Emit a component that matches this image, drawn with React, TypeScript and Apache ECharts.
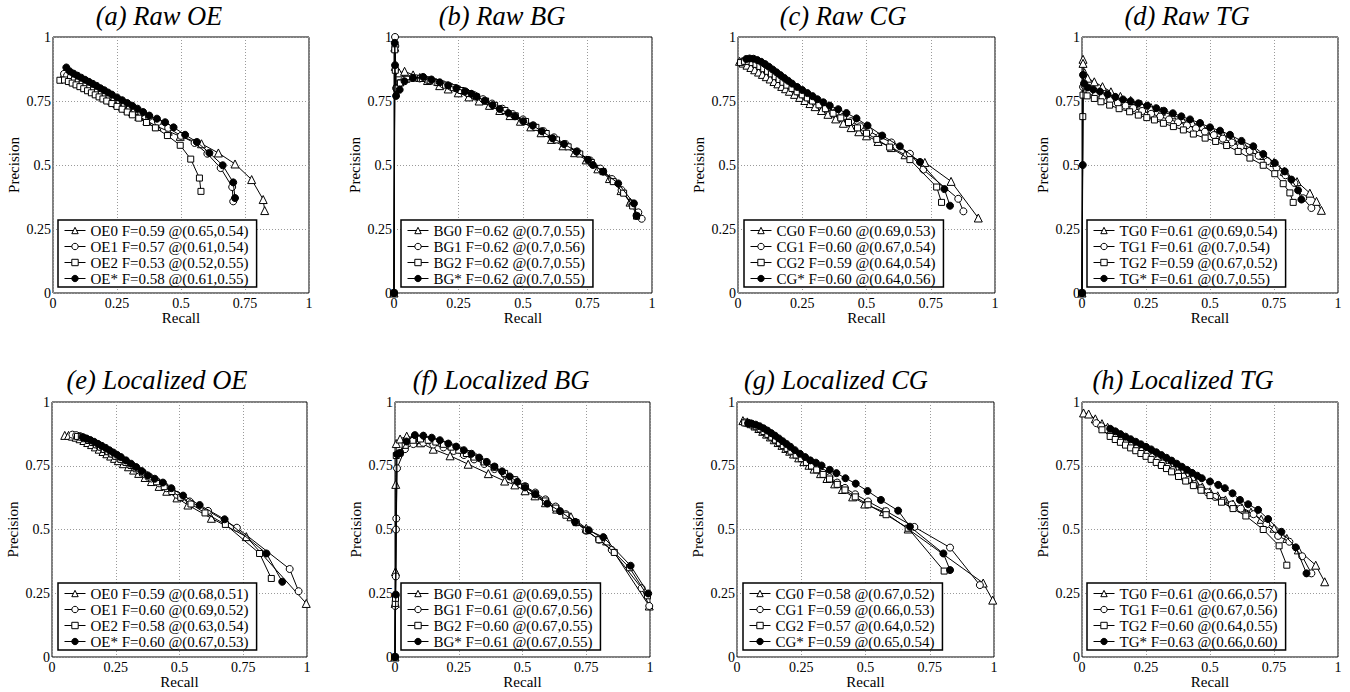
import React, { useEffect, useRef } from "react";
import * as echarts from "echarts";

type Pt = [number, number];

const FONT = "Liberation Serif";

const panelTitles = [
  "(a) Raw OE", "(b) Raw BG", "(c) Raw CG", "(d) Raw TG",
  "(e) Localized OE", "(f) Localized BG", "(g) Localized CG", "(h) Localized TG",
];

const legendNames: string[][] = [
  ["OE0 F=0.59 @(0.65,0.54)", "OE1 F=0.57 @(0.61,0.54)", "OE2 F=0.53 @(0.52,0.55)", "OE* F=0.58 @(0.61,0.55)"],
  ["BG0 F=0.62 @(0.7,0.55)", "BG1 F=0.62 @(0.7,0.56)", "BG2 F=0.62 @(0.7,0.55)", "BG* F=0.62 @(0.7,0.55)"],
  ["CG0 F=0.60 @(0.69,0.53)", "CG1 F=0.60 @(0.67,0.54)", "CG2 F=0.59 @(0.64,0.54)", "CG* F=0.60 @(0.64,0.56)"],
  ["TG0 F=0.61 @(0.69,0.54)", "TG1 F=0.61 @(0.7,0.54)", "TG2 F=0.59 @(0.67,0.52)", "TG* F=0.61 @(0.7,0.55)"],
  ["OE0 F=0.59 @(0.68,0.51)", "OE1 F=0.60 @(0.69,0.52)", "OE2 F=0.58 @(0.63,0.54)", "OE* F=0.60 @(0.67,0.53)"],
  ["BG0 F=0.61 @(0.69,0.55)", "BG1 F=0.61 @(0.67,0.56)", "BG2 F=0.60 @(0.67,0.55)", "BG* F=0.61 @(0.67,0.55)"],
  ["CG0 F=0.58 @(0.67,0.52)", "CG1 F=0.59 @(0.66,0.53)", "CG2 F=0.57 @(0.64,0.52)", "CG* F=0.59 @(0.65,0.54)"],
  ["TG0 F=0.61 @(0.66,0.57)", "TG1 F=0.61 @(0.67,0.56)", "TG2 F=0.60 @(0.64,0.55)", "TG* F=0.63 @(0.66,0.60)"],
];

const axisMin = 0;
const axisMax = 1;
const axisStep = 0.25;

// ---------- (a) Raw OE ----------
const rawOE0: Pt[] = [[0.036,0.842],[0.05,0.838],[0.065,0.832],[0.08,0.826],[0.095,0.819],[0.11,0.812],[0.125,0.805],[0.14,0.797],[0.155,0.79],[0.17,0.782],[0.185,0.774],[0.2,0.766],[0.215,0.758],[0.23,0.75],[0.25,0.74],[0.27,0.73],[0.29,0.72],[0.31,0.708],[0.335,0.69],[0.367,0.672],[0.406,0.651],[0.45,0.632],[0.497,0.612],[0.58,0.583],[0.646,0.547],[0.711,0.504],[0.776,0.443],[0.821,0.365],[0.827,0.322]];
const rawOE1: Pt[] = [[0.043,0.856],[0.055,0.85],[0.07,0.844],[0.085,0.837],[0.1,0.83],[0.115,0.822],[0.13,0.815],[0.145,0.807],[0.16,0.8],[0.175,0.792],[0.19,0.784],[0.205,0.776],[0.22,0.768],[0.24,0.758],[0.26,0.748],[0.28,0.738],[0.3,0.727],[0.32,0.716],[0.345,0.703],[0.375,0.688],[0.41,0.668],[0.45,0.645],[0.5,0.614],[0.553,0.586],[0.603,0.544],[0.655,0.488],[0.7,0.414],[0.704,0.358]];
const rawOE2: Pt[] = [[0.027,0.831],[0.045,0.832],[0.06,0.826],[0.075,0.82],[0.09,0.813],[0.105,0.806],[0.12,0.798],[0.135,0.79],[0.15,0.782],[0.165,0.774],[0.18,0.766],[0.195,0.758],[0.21,0.75],[0.23,0.74],[0.25,0.729],[0.27,0.718],[0.29,0.707],[0.31,0.696],[0.335,0.683],[0.365,0.666],[0.4,0.645],[0.447,0.615],[0.497,0.577],[0.538,0.523],[0.572,0.449],[0.578,0.397]];
const rawOEs: Pt[] = [[0.052,0.881],[0.065,0.866],[0.08,0.857],[0.095,0.849],[0.11,0.841],[0.125,0.833],[0.14,0.825],[0.155,0.817],[0.17,0.809],[0.185,0.8],[0.2,0.792],[0.215,0.783],[0.23,0.775],[0.25,0.764],[0.27,0.753],[0.29,0.742],[0.31,0.731],[0.33,0.72],[0.352,0.707],[0.376,0.693],[0.406,0.681],[0.438,0.667],[0.471,0.647],[0.516,0.618],[0.562,0.59],[0.611,0.547],[0.663,0.499],[0.704,0.432],[0.711,0.371]];

// ---------- (b) Raw BG ----------
const rawBG0: Pt[] = [[0,0],[0.003,0.96],[0.005,0.885],[0.02,0.86],[0.041,0.866],[0.074,0.852],[0.1,0.842],[0.13,0.83],[0.177,0.81],[0.21,0.797],[0.249,0.782],[0.29,0.766],[0.33,0.75],[0.37,0.733],[0.41,0.713],[0.45,0.693],[0.49,0.671],[0.53,0.649],[0.57,0.626],[0.61,0.6],[0.655,0.575],[0.7,0.548],[0.745,0.52],[0.79,0.485],[0.835,0.447],[0.88,0.4],[0.915,0.355],[0.95,0.305]];
const rawBG1: Pt[] = [[0,0],[0.004,1.0],[0.005,0.965],[0.008,0.8],[0.02,0.82],[0.04,0.833],[0.07,0.84],[0.1,0.838],[0.13,0.832],[0.16,0.824],[0.19,0.815],[0.22,0.806],[0.25,0.796],[0.28,0.785],[0.31,0.773],[0.345,0.757],[0.38,0.74],[0.42,0.72],[0.46,0.699],[0.5,0.678],[0.54,0.655],[0.58,0.632],[0.62,0.608],[0.665,0.582],[0.71,0.553],[0.76,0.518],[0.8,0.486],[0.845,0.445],[0.882,0.402],[0.92,0.35],[0.947,0.315],[0.96,0.29]];
const rawBG2: Pt[] = [[0,0],[0.003,0.95],[0.005,0.87],[0.01,0.8],[0.025,0.82],[0.05,0.835],[0.08,0.84],[0.11,0.838],[0.14,0.831],[0.17,0.822],[0.2,0.812],[0.23,0.802],[0.26,0.791],[0.29,0.779],[0.32,0.766],[0.355,0.75],[0.39,0.733],[0.43,0.713],[0.47,0.692],[0.51,0.67],[0.55,0.647],[0.59,0.623],[0.63,0.598],[0.675,0.571],[0.72,0.543],[0.765,0.51],[0.81,0.474],[0.85,0.435],[0.89,0.39],[0.925,0.34],[0.94,0.3]];
const rawBGs: Pt[] = [[0,0],[0.003,0.977],[0.004,0.89],[0.008,0.77],[0.022,0.794],[0.041,0.827],[0.074,0.84],[0.113,0.844],[0.145,0.834],[0.177,0.823],[0.21,0.811],[0.242,0.8],[0.275,0.788],[0.3,0.778],[0.32,0.768],[0.352,0.751],[0.382,0.734],[0.41,0.719],[0.443,0.703],[0.469,0.69],[0.501,0.671],[0.538,0.654],[0.573,0.632],[0.615,0.604],[0.659,0.582],[0.708,0.552],[0.752,0.52],[0.771,0.5],[0.811,0.474],[0.869,0.428],[0.93,0.35],[0.94,0.302]];

// ---------- (c) Raw CG ----------
const rawCG0: Pt[] = [[0.006,0.905],[0.02,0.898],[0.035,0.89],[0.05,0.881],[0.065,0.872],[0.08,0.863],[0.095,0.854],[0.11,0.845],[0.125,0.836],[0.14,0.826],[0.155,0.817],[0.17,0.807],[0.185,0.798],[0.2,0.788],[0.22,0.776],[0.24,0.764],[0.26,0.752],[0.28,0.74],[0.3,0.728],[0.325,0.713],[0.35,0.698],[0.38,0.68],[0.41,0.663],[0.44,0.646],[0.47,0.63],[0.5,0.614],[0.545,0.592],[0.597,0.568],[0.65,0.54],[0.727,0.51],[0.829,0.436],[0.935,0.293]];
const rawCG1: Pt[] = [[0.02,0.905],[0.035,0.912],[0.05,0.912],[0.065,0.908],[0.08,0.902],[0.095,0.893],[0.11,0.883],[0.125,0.872],[0.14,0.861],[0.155,0.85],[0.17,0.839],[0.185,0.828],[0.2,0.817],[0.22,0.804],[0.24,0.791],[0.26,0.779],[0.28,0.767],[0.3,0.755],[0.325,0.74],[0.35,0.725],[0.38,0.707],[0.41,0.689],[0.44,0.671],[0.475,0.651],[0.51,0.632],[0.55,0.611],[0.597,0.588],[0.669,0.544],[0.721,0.482],[0.857,0.368],[0.877,0.319]];
const rawCG2: Pt[] = [[0.01,0.9],[0.025,0.905],[0.04,0.905],[0.055,0.9],[0.07,0.893],[0.085,0.885],[0.1,0.876],[0.115,0.866],[0.13,0.856],[0.145,0.845],[0.16,0.834],[0.175,0.823],[0.19,0.812],[0.21,0.799],[0.23,0.786],[0.25,0.774],[0.27,0.762],[0.29,0.75],[0.315,0.735],[0.34,0.72],[0.37,0.702],[0.4,0.684],[0.43,0.666],[0.465,0.645],[0.5,0.624],[0.54,0.6],[0.59,0.57],[0.669,0.521],[0.773,0.414],[0.792,0.354]];
const rawCGs: Pt[] = [[0.032,0.914],[0.045,0.916],[0.06,0.915],[0.075,0.91],[0.09,0.903],[0.105,0.894],[0.12,0.884],[0.135,0.873],[0.15,0.862],[0.165,0.851],[0.18,0.84],[0.195,0.829],[0.21,0.818],[0.23,0.805],[0.25,0.793],[0.27,0.781],[0.29,0.769],[0.309,0.757],[0.332,0.745],[0.357,0.732],[0.39,0.718],[0.422,0.703],[0.461,0.682],[0.504,0.654],[0.561,0.615],[0.63,0.573],[0.708,0.512],[0.803,0.406],[0.825,0.341]];

// ---------- (d) Raw TG ----------
const rawTG0: Pt[] = [[0,0],[0.004,0.913],[0.004,0.897],[0.01,0.86],[0.022,0.839],[0.048,0.825],[0.08,0.806],[0.113,0.786],[0.15,0.768],[0.19,0.752],[0.23,0.738],[0.27,0.724],[0.31,0.71],[0.35,0.696],[0.39,0.681],[0.43,0.666],[0.47,0.65],[0.51,0.634],[0.55,0.617],[0.59,0.599],[0.63,0.58],[0.67,0.56],[0.71,0.537],[0.75,0.51],[0.79,0.475],[0.84,0.435],[0.89,0.39],[0.916,0.358],[0.935,0.323]];
const rawTG1: Pt[] = [[0,0],[0.004,0.805],[0.01,0.809],[0.03,0.787],[0.055,0.775],[0.08,0.765],[0.11,0.753],[0.14,0.742],[0.17,0.732],[0.2,0.722],[0.235,0.711],[0.27,0.7],[0.305,0.689],[0.34,0.678],[0.375,0.667],[0.41,0.655],[0.445,0.643],[0.48,0.63],[0.515,0.617],[0.55,0.603],[0.585,0.588],[0.62,0.572],[0.655,0.555],[0.69,0.536],[0.725,0.515],[0.76,0.49],[0.795,0.46],[0.83,0.43],[0.864,0.37],[0.896,0.332]];
const rawTG2: Pt[] = [[0,0],[0.003,0.689],[0.004,0.773],[0.02,0.77],[0.048,0.76],[0.074,0.747],[0.108,0.734],[0.145,0.72],[0.186,0.708],[0.22,0.695],[0.253,0.685],[0.283,0.676],[0.318,0.663],[0.357,0.65],[0.396,0.637],[0.435,0.621],[0.481,0.605],[0.522,0.592],[0.565,0.576],[0.61,0.553],[0.656,0.527],[0.708,0.499],[0.753,0.466],[0.786,0.427],[0.812,0.391],[0.825,0.354]];
const rawTGs: Pt[] = [[0,0],[0.003,0.5],[0.004,0.852],[0.008,0.819],[0.022,0.803],[0.044,0.795],[0.07,0.787],[0.1,0.776],[0.13,0.766],[0.16,0.756],[0.19,0.749],[0.22,0.741],[0.255,0.732],[0.29,0.722],[0.32,0.712],[0.355,0.702],[0.388,0.69],[0.422,0.678],[0.461,0.664],[0.5,0.647],[0.539,0.634],[0.578,0.618],[0.623,0.594],[0.669,0.573],[0.708,0.543],[0.753,0.508],[0.792,0.475],[0.818,0.443],[0.844,0.401],[0.857,0.365]];

// ---------- (e) Localized OE ----------
const locOE0: Pt[] = [[0.05,0.869],[0.065,0.869],[0.08,0.866],[0.095,0.862],[0.11,0.856],[0.125,0.849],[0.14,0.841],[0.155,0.833],[0.17,0.824],[0.185,0.815],[0.2,0.806],[0.215,0.797],[0.23,0.788],[0.245,0.779],[0.26,0.77],[0.28,0.758],[0.3,0.746],[0.32,0.733],[0.34,0.72],[0.365,0.704],[0.39,0.688],[0.42,0.669],[0.45,0.65],[0.49,0.624],[0.533,0.596],[0.625,0.544],[0.762,0.472],[0.997,0.21]];
const locOE1: Pt[] = [[0.08,0.872],[0.095,0.87],[0.11,0.866],[0.125,0.86],[0.14,0.852],[0.155,0.844],[0.17,0.835],[0.185,0.826],[0.2,0.817],[0.215,0.808],[0.23,0.799],[0.245,0.79],[0.26,0.781],[0.28,0.769],[0.3,0.757],[0.32,0.745],[0.34,0.732],[0.365,0.716],[0.39,0.7],[0.42,0.681],[0.45,0.662],[0.49,0.636],[0.54,0.61],[0.612,0.573],[0.725,0.507],[0.932,0.345],[0.967,0.258]];
const locOE2: Pt[] = [[0.1,0.865],[0.115,0.862],[0.13,0.856],[0.145,0.849],[0.16,0.841],[0.175,0.832],[0.19,0.823],[0.205,0.814],[0.22,0.805],[0.235,0.796],[0.25,0.787],[0.27,0.775],[0.29,0.763],[0.31,0.751],[0.33,0.738],[0.355,0.722],[0.38,0.706],[0.41,0.687],[0.44,0.668],[0.47,0.649],[0.505,0.626],[0.545,0.6],[0.6,0.565],[0.68,0.52],[0.814,0.406],[0.86,0.308]];
const locOEs: Pt[] = [[0.12,0.862],[0.135,0.857],[0.15,0.851],[0.165,0.844],[0.18,0.836],[0.195,0.828],[0.21,0.82],[0.225,0.811],[0.24,0.802],[0.255,0.793],[0.27,0.784],[0.29,0.771],[0.31,0.758],[0.33,0.745],[0.352,0.729],[0.376,0.712],[0.403,0.699],[0.435,0.684],[0.468,0.662],[0.514,0.633],[0.579,0.596],[0.677,0.54],[0.841,0.406],[0.903,0.295]];

// ---------- (f) Localized BG ----------
const locBG0: Pt[] = [[0,0],[0.001,0.21],[0.002,0.335],[0.003,0.677],[0.005,0.837],[0.02,0.855],[0.046,0.866],[0.07,0.86],[0.1,0.84],[0.15,0.815],[0.216,0.789],[0.287,0.756],[0.366,0.719],[0.43,0.69],[0.47,0.675],[0.51,0.652],[0.549,0.632],[0.59,0.605],[0.634,0.58],[0.69,0.55],[0.75,0.505],[0.83,0.455],[0.997,0.2]];
const locBG1: Pt[] = [[0,0],[0.001,0.2],[0.002,0.24],[0.003,0.316],[0.004,0.5],[0.005,0.543],[0.008,0.74],[0.039,0.815],[0.072,0.835],[0.111,0.84],[0.15,0.833],[0.19,0.822],[0.23,0.808],[0.27,0.792],[0.31,0.775],[0.35,0.757],[0.39,0.737],[0.43,0.716],[0.47,0.694],[0.51,0.67],[0.55,0.645],[0.59,0.618],[0.63,0.59],[0.67,0.56],[0.71,0.528],[0.75,0.495],[0.8,0.46],[0.85,0.42],[0.967,0.27],[0.997,0.2]];
const locBG2: Pt[] = [[0,0],[0.001,0.21],[0.002,0.23],[0.005,0.79],[0.02,0.8],[0.04,0.83],[0.07,0.85],[0.1,0.855],[0.13,0.85],[0.16,0.843],[0.19,0.834],[0.22,0.823],[0.25,0.811],[0.28,0.798],[0.31,0.784],[0.35,0.765],[0.39,0.744],[0.43,0.72],[0.47,0.695],[0.51,0.668],[0.55,0.64],[0.59,0.612],[0.63,0.584],[0.67,0.556],[0.71,0.527],[0.75,0.497],[0.8,0.46],[0.86,0.41],[0.92,0.35],[0.99,0.24]];
const locBGs: Pt[] = [[0,0],[0.003,0.245],[0.008,0.795],[0.02,0.8],[0.045,0.845],[0.078,0.87],[0.111,0.868],[0.144,0.86],[0.176,0.85],[0.209,0.837],[0.24,0.825],[0.27,0.811],[0.3,0.797],[0.33,0.782],[0.36,0.765],[0.39,0.747],[0.42,0.728],[0.45,0.708],[0.48,0.687],[0.51,0.665],[0.55,0.638],[0.597,0.602],[0.647,0.572],[0.706,0.53],[0.76,0.497],[0.817,0.47],[0.924,0.358],[0.993,0.249]];

// ---------- (g) Localized CG ----------
const locCG0: Pt[] = [[0.023,0.927],[0.04,0.922],[0.055,0.915],[0.07,0.906],[0.085,0.896],[0.1,0.885],[0.115,0.874],[0.13,0.863],[0.145,0.852],[0.16,0.841],[0.175,0.83],[0.19,0.818],[0.205,0.807],[0.22,0.796],[0.24,0.781],[0.26,0.766],[0.28,0.752],[0.3,0.737],[0.325,0.719],[0.35,0.7],[0.38,0.679],[0.41,0.657],[0.45,0.628],[0.497,0.6],[0.57,0.57],[0.666,0.502],[0.958,0.29],[0.995,0.223]];
const locCG1: Pt[] = [[0.03,0.92],[0.045,0.918],[0.06,0.913],[0.075,0.906],[0.09,0.897],[0.105,0.887],[0.12,0.877],[0.135,0.866],[0.15,0.855],[0.165,0.844],[0.18,0.833],[0.195,0.822],[0.21,0.811],[0.23,0.797],[0.25,0.782],[0.27,0.768],[0.29,0.754],[0.31,0.74],[0.335,0.722],[0.36,0.705],[0.39,0.684],[0.42,0.663],[0.46,0.638],[0.51,0.61],[0.58,0.572],[0.69,0.51],[0.829,0.429],[0.945,0.282]];
const locCG2: Pt[] = [[0.03,0.918],[0.045,0.915],[0.06,0.91],[0.075,0.903],[0.09,0.894],[0.105,0.884],[0.12,0.873],[0.135,0.862],[0.15,0.851],[0.165,0.84],[0.18,0.829],[0.195,0.818],[0.21,0.807],[0.23,0.792],[0.25,0.778],[0.27,0.763],[0.29,0.749],[0.31,0.734],[0.335,0.716],[0.36,0.698],[0.39,0.677],[0.42,0.655],[0.46,0.628],[0.51,0.597],[0.58,0.558],[0.666,0.505],[0.806,0.337]];
const locCGs: Pt[] = [[0.043,0.917],[0.058,0.915],[0.073,0.911],[0.088,0.905],[0.103,0.897],[0.118,0.888],[0.133,0.878],[0.148,0.868],[0.163,0.857],[0.178,0.846],[0.193,0.835],[0.208,0.824],[0.225,0.811],[0.245,0.797],[0.265,0.784],[0.285,0.771],[0.307,0.762],[0.329,0.751],[0.361,0.734],[0.387,0.721],[0.422,0.701],[0.462,0.68],[0.508,0.651],[0.56,0.616],[0.627,0.574],[0.673,0.511],[0.803,0.406],[0.829,0.341]];

// ---------- (h) Localized TG ----------
const locTG0: Pt[] = [[0.006,0.957],[0.026,0.953],[0.052,0.934],[0.078,0.915],[0.1,0.901],[0.12,0.888],[0.14,0.876],[0.16,0.864],[0.18,0.852],[0.2,0.84],[0.22,0.828],[0.24,0.816],[0.26,0.803],[0.28,0.79],[0.3,0.777],[0.32,0.764],[0.34,0.751],[0.36,0.738],[0.38,0.725],[0.4,0.712],[0.42,0.699],[0.445,0.683],[0.47,0.667],[0.5,0.648],[0.53,0.632],[0.56,0.616],[0.59,0.6],[0.625,0.585],[0.66,0.568],[0.7,0.54],[0.75,0.505],[0.8,0.465],[0.845,0.42],[0.913,0.36],[0.948,0.295]];
const locTG1: Pt[] = [[0.056,0.917],[0.075,0.905],[0.095,0.893],[0.115,0.881],[0.135,0.869],[0.155,0.857],[0.175,0.845],[0.195,0.833],[0.215,0.821],[0.235,0.809],[0.255,0.797],[0.275,0.784],[0.295,0.772],[0.315,0.759],[0.335,0.746],[0.355,0.733],[0.375,0.72],[0.395,0.707],[0.415,0.694],[0.44,0.678],[0.465,0.662],[0.49,0.646],[0.52,0.628],[0.55,0.612],[0.585,0.598],[0.62,0.582],[0.67,0.56],[0.72,0.52],[0.766,0.475],[0.81,0.452],[0.86,0.395],[0.896,0.328]];
const locTG2: Pt[] = [[0.078,0.891],[0.11,0.865],[0.13,0.853],[0.15,0.842],[0.17,0.831],[0.19,0.82],[0.21,0.809],[0.23,0.798],[0.25,0.787],[0.27,0.775],[0.29,0.763],[0.31,0.751],[0.33,0.739],[0.35,0.726],[0.377,0.708],[0.405,0.69],[0.435,0.672],[0.465,0.654],[0.5,0.633],[0.545,0.607],[0.59,0.582],[0.64,0.553],[0.708,0.5],[0.77,0.436],[0.8,0.36]];
const locTGs: Pt[] = [[0.11,0.895],[0.13,0.885],[0.15,0.874],[0.17,0.864],[0.19,0.854],[0.21,0.844],[0.23,0.834],[0.25,0.824],[0.27,0.814],[0.29,0.803],[0.31,0.792],[0.33,0.781],[0.35,0.77],[0.37,0.758],[0.39,0.746],[0.41,0.734],[0.43,0.722],[0.45,0.711],[0.468,0.701],[0.5,0.688],[0.532,0.675],[0.558,0.662],[0.588,0.642],[0.617,0.616],[0.649,0.599],[0.688,0.577],[0.727,0.541],[0.779,0.491],[0.835,0.43],[0.877,0.328]];

const panelSeries: Pt[][][] = [
  [rawOE0, rawOE1, rawOE2, rawOEs],
  [rawBG0, rawBG1, rawBG2, rawBGs],
  [rawCG0, rawCG1, rawCG2, rawCGs],
  [rawTG0, rawTG1, rawTG2, rawTGs],
  [locOE0, locOE1, locOE2, locOEs],
  [locBG0, locBG1, locBG2, locBGs],
  [locCG0, locCG1, locCG2, locCGs],
  [locTG0, locTG1, locTG2, locTGs],
];

// ---------- layout (pixels) ----------
const plotRects = [
  { left: 53, top: 37, width: 256, height: 256 },
  { left: 394, top: 37, width: 258, height: 256 },
  { left: 738, top: 37, width: 257, height: 256 },
  { left: 1082, top: 37, width: 256, height: 256 },
  { left: 52, top: 402, width: 255, height: 255 },
  { left: 395, top: 402, width: 255, height: 255 },
  { left: 737, top: 402, width: 257, height: 255 },
  { left: 1082, top: 402, width: 256, height: 255 },
];
const titleAnchors = [
  [159, 2], [502, 2], [843, 2], [1187, 2],
  [157, 366], [501, 366], [836, 366], [1183, 366],
];
const legendAnchors = [
  [58, 220], [401, 220], [744, 220], [1087, 220],
  [58, 583], [401, 583], [743, 583], [1087, 583],
];

const markerKinds = [
  { symbol: "triangle", size: 8, fill: "#ffffff" },
  { symbol: "circle", size: 7, fill: "#ffffff" },
  { symbol: "rect", size: 6, fill: "#ffffff" },
  { symbol: "circle", size: 7, fill: "#000000" },
];

function buildOption(): any {
  const grid = plotRects.map((r) => ({
    ...r,
    show: true,
    borderColor: "#000",
    borderWidth: 1,
    backgroundColor: "transparent",
    containLabel: false,
  }));

  const axisCommon = {
    type: "value",
    min: axisMin,
    max: axisMax,
    interval: axisStep,
    axisLine: { show: false },
    axisTick: { show: false },
    splitLine: { show: true, lineStyle: { color: "#9a9a9a", width: 1, type: [1, 2] } },
    nameTextStyle: { fontFamily: FONT, fontSize: 15, color: "#000" },
  };

  const xAxis = plotRects.map((_, i) => ({
    ...axisCommon,
    gridIndex: i,
    name: "Recall",
    nameLocation: "middle",
    nameGap: 13,
    axisLabel: { fontFamily: FONT, fontSize: 14, color: "#000", margin: 3 },
  }));
  const yAxis = plotRects.map((_, i) => ({
    ...axisCommon,
    gridIndex: i,
    name: "Precision",
    nameLocation: "middle",
    nameGap: 32,
    axisLabel: { fontFamily: FONT, fontSize: 14, color: "#000", margin: 2 },
  }));

  const series: any[] = [];
  panelSeries.forEach((curves, i) => {
    curves.forEach((pts, k) => {
      const m = markerKinds[k];
      series.push({
        type: "line",
        name: legendNames[i][k],
        xAxisIndex: i,
        yAxisIndex: i,
        data: pts,
        symbol: m.symbol,
        symbolSize: m.size,
        showSymbol: true,
        clip: false,
        lineStyle: { color: "#000", width: 1 },
        itemStyle: { color: m.fill, borderColor: "#000", borderWidth: 1 },
        emphasis: { disabled: true },
        z: 2 + k,
      });
    });
  });

  const legend = legendAnchors.map((a, i) => ({
    data: legendNames[i],
    left: a[0],
    top: a[1],
    orient: "vertical",
    itemWidth: 21,
    itemHeight: 8,
    itemGap: 1,
    padding: [3, 8, 1, 6],
    borderColor: "#000",
    borderWidth: 1.5,
    backgroundColor: "#fff",
    selectedMode: false,
    textStyle: { fontFamily: FONT, fontSize: 15, color: "#000", lineHeight: 15 },
    itemStyle: { borderWidth: 1, borderColor: "#000" },
    lineStyle: { width: 1, color: "#000" },
  }));

  const title = titleAnchors.map((a, i) => ({
    text: panelTitles[i],
    left: a[0],
    top: a[1],
    textAlign: "center",
    padding: 0,
    textStyle: {
      fontFamily: FONT,
      fontStyle: "italic",
      fontWeight: "normal",
      fontSize: 26.5,
      color: "#000",
    },
  }));

  return {
    animation: false,
    backgroundColor: "#fff",
    textStyle: { fontFamily: FONT },
    title,
    legend,
    grid,
    xAxis,
    yAxis,
    series,
  };
}

export default function App() {
  const ref = useRef<HTMLDivElement>(null);
  useEffect(() => {
    if (!ref.current) return;
    const chart = echarts.init(ref.current, undefined, { renderer: "svg" });
    chart.setOption(buildOption());
    return () => {
      chart.dispose();
    };
  }, []);
  return (
    <div
      ref={ref}
      style={{ position: "absolute", left: 0, top: 0, width: 1350, height: 692, background: "#fff" }}
    />
  );
}
